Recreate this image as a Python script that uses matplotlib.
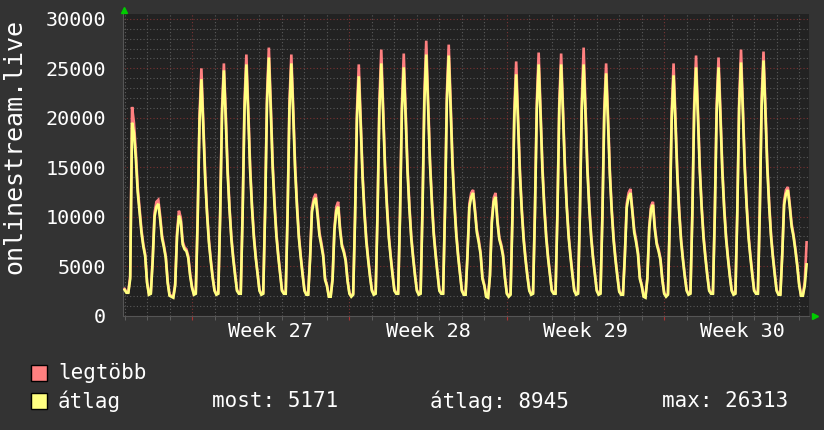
import numpy as np
import matplotlib
matplotlib.use("Agg")
import matplotlib.pyplot as plt
from matplotlib.patches import Rectangle
from matplotlib.ticker import MultipleLocator, FixedLocator

# viewers, in hundreds, one value every 2 hours (12 per day)
# start: Friday 00:00 before week 27
avg_w26 = [26, 23, 23, 37, 195, 185, 159, 125, 104, 84, 70, 60,
           33, 21, 22, 55, 100, 110, 113, 97, 78, 69, 58, 33,
           20, 19, 18, 30, 80, 101, 95, 72, 67, 65, 58, 40]
max_w26 = [27, 24, 24, 40, 211, 195, 166, 130, 108, 87, 72, 62,
           34, 22, 23, 58, 104, 115, 117, 101, 81, 71, 60, 35,
           21, 20, 19, 32, 84, 106, 99, 75, 69, 67, 60, 42]

avg_w27 = [28, 21, 22, 96, 196, 239, 191, 139, 103, 74, 55, 38,
           25, 21, 22, 99, 203, 248, 198, 144, 107, 77, 57, 40,
           25, 22, 22, 102, 208, 254, 203, 147, 109, 79, 58, 41,
           25, 21, 22, 104, 214, 261, 209, 151, 112, 81, 60, 42,
           25, 22, 22, 102, 209, 255, 204, 148, 110, 79, 59, 41,
           25, 21, 21, 57, 105, 115, 119, 101, 81, 71, 60, 36,
           30, 19, 19, 36, 86, 106, 110, 86, 70, 64, 55, 35]
max_w27 = [29, 22, 23, 100, 203, 250, 198, 144, 106, 77, 57, 40,
           26, 22, 23, 103, 210, 255, 205, 149, 110, 80, 59, 42,
           26, 23, 23, 106, 216, 264, 210, 152, 112, 82, 60, 43,
           26, 22, 23, 108, 222, 271, 216, 156, 116, 84, 62, 44,
           26, 23, 23, 106, 217, 264, 211, 153, 114, 82, 61, 43,
           26, 22, 22, 59, 109, 119, 123, 105, 84, 74, 62, 38,
           31, 20, 20, 38, 89, 110, 115, 89, 72, 66, 57, 36]

avg_w28 = [22, 19, 21, 97, 198, 242, 194, 140, 104, 75, 56, 39,
           25, 21, 22, 102, 209, 255, 204, 148, 110, 79, 59, 41,
           25, 22, 22, 100, 206, 251, 201, 146, 108, 78, 58, 40,
           25, 21, 22, 106, 216, 264, 211, 153, 114, 82, 61, 42,
           25, 22, 22, 105, 216, 263, 210, 153, 113, 82, 60, 42,
           25, 21, 21, 60, 109, 120, 124, 105, 84, 74, 62, 37,
           30, 19, 18, 40, 94, 115, 120, 94, 77, 70, 60, 38]
max_w28 = [23, 20, 22, 101, 206, 254, 201, 145, 107, 78, 58, 41,
           26, 22, 23, 106, 218, 269, 211, 153, 114, 82, 61, 43,
           26, 23, 23, 104, 214, 265, 208, 151, 112, 81, 60, 42,
           26, 22, 23, 110, 225, 278, 219, 158, 118, 85, 63, 44,
           26, 23, 23, 109, 224, 274, 218, 158, 117, 85, 62, 44,
           26, 22, 22, 62, 113, 124, 127, 108, 87, 77, 64, 39,
           31, 20, 19, 41, 97, 119, 124, 97, 79, 72, 62, 39]

avg_w29 = [22, 19, 21, 98, 200, 244, 195, 142, 105, 76, 56, 39,
           25, 21, 22, 102, 208, 254, 203, 147, 109, 79, 58, 41,
           25, 22, 22, 101, 208, 254, 203, 148, 109, 79, 59, 41,
           25, 21, 22, 102, 208, 254, 203, 147, 109, 79, 58, 41,
           25, 21, 22, 98, 201, 245, 196, 142, 105, 76, 56, 39,
           24, 21, 21, 60, 109, 120, 124, 105, 84, 74, 62, 37,
           30, 19, 18, 37, 87, 108, 112, 87, 72, 65, 56, 36]
max_w29 = [23, 20, 22, 102, 208, 257, 203, 147, 108, 79, 58, 41,
           26, 22, 23, 106, 216, 266, 210, 152, 112, 82, 60, 43,
           26, 23, 23, 105, 216, 265, 210, 153, 112, 82, 61, 43,
           26, 22, 23, 106, 217, 271, 210, 152, 113, 82, 60, 43,
           26, 22, 23, 102, 209, 255, 203, 147, 108, 79, 58, 41,
           25, 22, 22, 62, 113, 124, 128, 108, 87, 77, 64, 39,
           31, 20, 19, 38, 90, 111, 115, 90, 74, 67, 58, 37]

avg_w30 = [22, 19, 21, 97, 199, 243, 194, 141, 104, 75, 56, 39,
           25, 21, 22, 100, 206, 251, 201, 146, 108, 78, 58, 40,
           25, 22, 22, 100, 206, 251, 201, 146, 108, 78, 58, 40,
           25, 21, 22, 102, 210, 256, 205, 148, 110, 79, 59, 41,
           25, 22, 22, 103, 212, 258, 206, 150, 111, 80, 59, 41,
           25, 21, 21, 61, 112, 123, 127, 110, 90, 80, 66, 50,
           31, 20, 20, 30, 51.71]
max_w30 = [23, 20, 22, 101, 207, 255, 202, 146, 107, 78, 58, 41,
           26, 22, 23, 104, 214, 263, 208, 151, 111, 81, 60, 42,
           26, 23, 23, 104, 214, 261, 208, 151, 111, 81, 60, 42,
           26, 22, 23, 106, 218, 269, 212, 153, 114, 82, 61, 43,
           26, 23, 23, 107, 220, 267, 213, 155, 115, 83, 61, 43,
           26, 22, 22, 63, 116, 127, 130, 113, 93, 82, 68, 52,
           33, 21, 21, 34, 74]

week_labels = ["Week 27", "Week 28", "Week 29", "Week 30"]
week_starts = [3, 10, 17, 24]   # days from start (Monday 00:00)
legend_stats = ["most: 5171", "átlag: 8945", "max: 26313"]

avg = np.array(avg_w26 + avg_w27 + avg_w28 + avg_w29 + avg_w30) * 100
mx = np.array(max_w26 + max_w27 + max_w28 + max_w29 + max_w30) * 100
t = np.arange(len(avg)) / 12.0

bg = "#333333"
plotbg = "#222222"
red = "#ff8080"
yellow = "#ffff80"
mono = "DejaVu Sans Mono"
plt.rcParams["font.family"] = mono

fig = plt.figure(figsize=(8.24, 4.30), dpi=100, facecolor=bg)
ax = fig.add_axes([123 / 824, 114.5 / 430, 686 / 824, 301.5 / 430])
ax.set_facecolor(plotbg)

ax.plot(t, mx, color=red, lw=1.9, solid_joinstyle="miter", zorder=3)
ax.plot(t, avg, color=yellow, lw=1.9, solid_joinstyle="miter", zorder=4)

ax.set_xlim(-0.07, 30.44)
ax.set_ylim(0, 30500)

ax.xaxis.set_major_locator(FixedLocator(week_starts))
ax.xaxis.set_minor_locator(MultipleLocator(1))
ax.yaxis.set_major_locator(MultipleLocator(5000))
ax.yaxis.set_minor_locator(MultipleLocator(1000))

ax.grid(which="minor", color="#5a5a5a", ls=(0, (1, 2)), lw=0.8, zorder=1)
ax.grid(which="major", color="#7a3434", ls=(0, (1, 2)), lw=0.8, zorder=2)

ax.tick_params(axis="x", which="both", labelbottom=False, length=3,
               direction="out")
ax.tick_params(axis="x", which="major", color="#aa3333")
ax.tick_params(axis="x", which="minor", color="#666666")
ax.tick_params(axis="y", which="both", length=0, pad=12,
               labelcolor="white", labelsize=14.5)
for lab in ax.get_yticklabels():
    lab.set_fontfamily(mono)

for s in ["top", "right"]:
    ax.spines[s].set_visible(False)
for s in ["left", "bottom"]:
    ax.spines[s].set_color("#555555")
    ax.spines[s].set_linewidth(0.8)

# week labels centred in each week
for ws, lab in zip(week_starts, week_labels):
    ax.text(ws + 3.5, -0.052, lab, transform=ax.get_xaxis_transform(),
            ha="center", va="center", color="white", fontsize=14.5)

# green arrows at axis ends
ax.plot([0.0015], [1.013], marker="^", ms=5, color="#00cc00",
        transform=ax.transAxes, clip_on=False, zorder=5)
ax.plot([1.009], [0.0], marker=">", ms=5, color="#00cc00",
        transform=ax.transAxes, clip_on=False, zorder=5)

fig.text(14 / 824, 1 - 147 / 430, "onlinestream.live", rotation=90,
         ha="center", va="center", color="white", fontsize=18)

# legend
fig.add_artist(Rectangle((31 / 824, 1 - 381 / 430), 16 / 824, 16 / 430,
                         transform=fig.transFigure, fc=red, ec="black", lw=1))
fig.add_artist(Rectangle((31 / 824, 1 - 409 / 430), 16 / 824, 16 / 430,
                         transform=fig.transFigure, fc=yellow, ec="black", lw=1))
fig.text(58 / 824, 1 - 373 / 430, "legtöbb", ha="left", va="center",
         color="white", fontsize=15)
fig.text(58 / 824, 1 - 401 / 430, "átlag", ha="left", va="center",
         color="white", fontsize=15)
for xpos, s in zip([212, 430, 662], legend_stats):
    fig.text(xpos / 824, 1 - 401 / 430, s, ha="left", va="center",
             color="white", fontsize=15)

fig.savefig("out.png", dpi=100, facecolor=bg)
